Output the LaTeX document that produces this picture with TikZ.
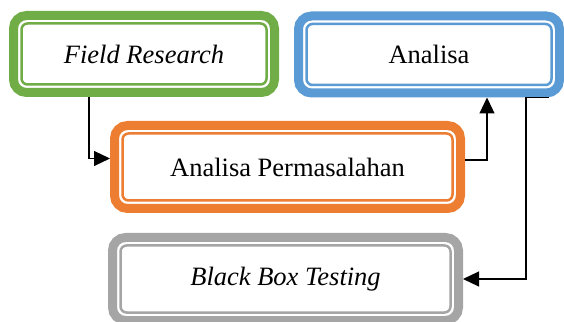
\documentclass[tikz,border=0pt]{standalone}
\usepackage{fontspec}
\setmainfont{Liberation Serif}
\usetikzlibrary{arrows.meta,calc}
\definecolor{cgreen}{HTML}{70AD47}
\definecolor{cblue}{HTML}{5B9BD5}
\definecolor{corange}{HTML}{ED7D31}
\definecolor{cgray}{HTML}{A5A5A5}
\tikzset{
  stagebox/.style={draw=#1, line width=9pt, rounded corners=13pt, inner sep=0pt, outer sep=4.5pt,
    font=\fontsize{26.5}{30}\selectfont, fill=white},
  smallbox/.style={stagebox=#1, minimum width=261pt, minimum height=77pt},
  widebox/.style={stagebox=#1, minimum width=346pt, minimum height=83pt},
  innerline/.style={draw=#1, line width=2.5pt, rounded corners=6pt},
  flow/.style={draw=black, line width=1.1pt, -{Triangle[length=16pt,width=15pt]}},
  plainline/.style={draw=black, line width=1.1pt}
}
\begin{document}
\begin{tikzpicture}[x=1pt,y=1pt]
\useasboundingbox (0,0) rectangle (564,321);
\node[smallbox=cgreen] (fr) at (144,267) {\itshape Field Research};
\node[smallbox=cblue] (an) at (429,266.5) {Analisa};
\node[widebox=corange] (ap) at (287.5,154) {Analisa Permasalahan};
\node[widebox=cgray] (bb) at (285.5,42) {\itshape Black Box Testing};
\foreach \n/\c in {fr/cgreen, an/cblue, ap/corange, bb/cgray}{
  \draw[innerline=\c] ($(\n.south west)+(12.5,12.5)$) rectangle ($(\n.north east)-(12.5,12.5)$);
}
\coordinate (c1s) at ($(fr.south west)+(80,0)$);
\draw[flow] (c1s) |- ([yshift=8.5pt]ap.west);
\coordinate (c2e) at ($(an.south west)+(193,0)$);
\draw[flow] ([yshift=7pt]ap.east) -| (c2e);
\coordinate (c3s) at ($(an.south west)+(255,0)$);
\coordinate (c3k) at ($(an.south west)+(232,0)$);
\draw[plainline] (c3s) -- (c3k);
\draw[flow] (c3k) |- (bb.east);
\end{tikzpicture}
\end{document}
